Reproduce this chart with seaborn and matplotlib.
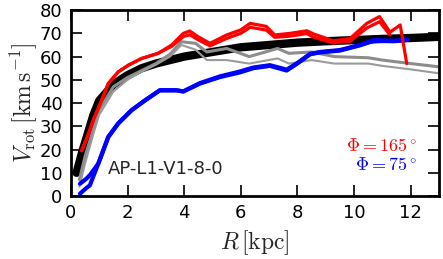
import numpy as np
import pandas as pd
import matplotlib
matplotlib.use("Agg")
import matplotlib.pyplot as plt
import seaborn as sns

# black model curve
r_black = [0.2, 0.4, 0.6, 0.8, 1.0, 1.5, 2.0, 2.5, 3.0, 4.0, 5.0, 6.0, 7.0, 8.0, 9.0, 10.0, 11.0, 12.0, 13.0]
v_black = [10, 19, 27, 35, 41, 48, 52, 55, 57, 60, 62, 64, 65, 66, 66.6, 67.1, 67.6, 68.0, 68.5]

# gray curves (thick / thin)
r_gray = [0.3, 0.5, 0.8, 1.0, 1.5, 2.0, 2.5, 3.0, 3.5, 3.9, 4.4, 4.8, 5.5, 6.3, 7.3, 7.7, 8.5, 9.3, 10.5, 11.0, 12.0, 13.0]
v_gray1 = [7, 17, 29, 37, 47, 51, 54, 57, 61, 66.4, 65.7, 62, 63.5, 60, 63.5, 61.4, 62, 60, 59.5, 58.5, 57, 55.6]
v_gray2 = [4, 14, 27, 35, 45, 50, 53.5, 56.5, 60, 65, 63, 58.5, 58.5, 57, 59.2, 57, 58.5, 57, 57, 56, 54.5, 52.8]

# red curves (Phi = 165)
r_red = [0.38, 0.6, 0.8, 1.08, 1.32, 1.67, 2.03, 2.5, 3.08, 3.56, 3.97, 4.2, 4.5, 4.91, 5.5, 6.0, 6.33, 6.9, 7.2,
         7.74, 8.33, 8.56, 9.27, 9.86, 10.45, 10.9, 11.27, 11.63, 11.86]
v_red1 = [19.5, 26, 33, 41, 48.4, 53.4, 56.3, 59.2, 61.4, 65, 70, 71, 68.5, 65.7, 69.3, 71.5, 74.3, 73, 69.3,
          70, 71.1, 69.8, 66.8, 67.8, 74.3, 77.2, 70.5, 73.6, 57]
v_red2 = [19.5, 26, 33, 41, 48.4, 53.4, 56.3, 59.2, 61.4, 64.4, 68.6, 69.4, 67.2, 64.6, 67.8, 70, 72.6, 71.4, 68.3,
          68.8, 69.9, 68.4, 65.8, 66.6, 72.3, 75, 69.3, np.nan, np.nan]

# blue curves (Phi = 75)
r_blue = [0.32, 0.55, 0.67, 0.97, 1.32, 1.67, 2.14, 2.6, 3.14, 3.73, 3.97, 4.56, 5.27, 5.97, 6.44, 7.03, 7.62,
          7.97, 8.45, 8.8, 9.5, 10.2, 10.7, 11.4, 11.9]
v_blue1 = [5.3, 7.5, 9, 14, 25.4, 31.2, 36.9, 41, 45.5, 45.5, 45, 48.6, 51.5, 53.6, 55.3, 56.3, 54.4,
           57, 61.2, 62, 62.8, 65, 67.1, 66.8, 67.4]
v_blue2 = [1, 3.5, 4.6, 14, 25.4, 31.2, 36.9, 41, 45.5, 45.5, 45, 48.4, 51.2, 53.2, 55, 56, 54,
           56.8, 61, 61.8, 62.6, 64.8, 66.8, 66.6, 67.2]

sns.set_style("ticks")
plt.rcParams["mathtext.fontset"] = "cm"
plt.rcParams["font.family"] = ["DejaVu Sans"]

fig = plt.figure(figsize=(4.43, 2.59), dpi=100)
ax = fig.add_axes([0.16, 0.243, 0.831, 0.718])

sns.lineplot(x=r_black, y=v_black, color="black", lw=6, ax=ax)
sns.lineplot(x=r_gray, y=v_gray1, color="#8c8c8c", lw=2.2, ax=ax)
sns.lineplot(x=r_gray, y=v_gray2, color="#9a9a9a", lw=1.5, ax=ax)
sns.lineplot(x=r_blue, y=v_blue1, color="blue", lw=3, ax=ax)
sns.lineplot(x=r_blue, y=v_blue2, color="blue", lw=3, ax=ax)
sns.lineplot(x=r_red, y=v_red1, color="red", lw=2.3, ax=ax)
sns.lineplot(x=r_red, y=v_red2, color="red", lw=2.3, ax=ax)

ax.set_xlim(0, 13)
ax.set_ylim(0, 80)
ax.set_xticks(range(0, 13, 2))
ax.set_yticks(range(0, 81, 10))
ax.tick_params(direction="in", length=8, width=1.2, top=True, right=True, labelsize=13, colors="black", pad=6)
for s in ax.spines.values():
    s.set_linewidth(2)
    s.set_color("black")

ax.set_xlabel(r"$R\,[{\rm kpc}]$", fontsize=17, labelpad=4)
ax.set_ylabel(r"$V_{\rm rot}\,[{\rm km\,s^{-1}}]$", fontsize=17, labelpad=0)

ax.text(1.32, 11.8, "AP-L1-V1-8-0", fontsize=13, va="center", ha="left")
ax.text(0.94, 0.27, r"$\Phi=165^\circ$", color="red", fontsize=13, transform=ax.transAxes, ha="right", va="center")
ax.text(0.94, 0.165, r"$\Phi=75^\circ$", color="blue", fontsize=13, transform=ax.transAxes, ha="right", va="center")

fig.savefig("out.png", dpi=100)
